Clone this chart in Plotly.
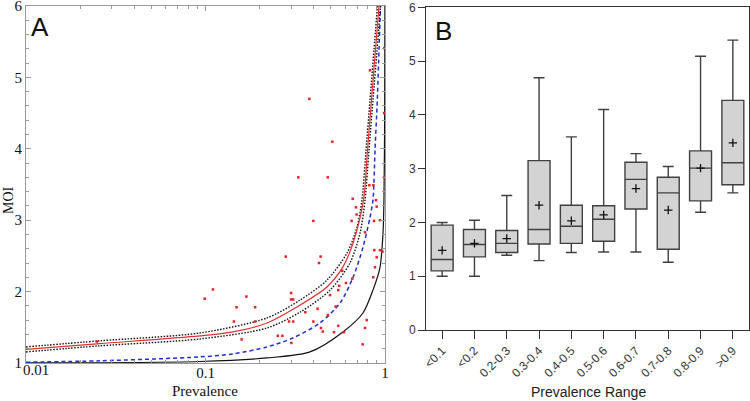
import plotly.graph_objects as go

# ---------------- Panel A data ----------------
red_p = [0.01, 0.0258, 0.093, 0.142, 0.220, 0.323, 0.475, 0.583, 0.664, 0.759, 0.799, 0.841, 0.885, 0.926]
red_moi = [1.19, 1.27, 1.378, 1.434, 1.56, 1.784, 2.064, 2.345, 2.68, 3.28, 3.98, 4.68, 5.38, 6.0]

upper_p = [0.01, 0.0258, 0.093, 0.220, 0.336, 0.475, 0.614, 0.698, 0.744, 0.784, 0.825, 0.868, 0.908]
upper_moi = [1.224, 1.31, 1.42, 1.63, 1.88, 2.16, 2.54, 2.90, 3.28, 3.98, 4.68, 5.38, 6.0]

lower_p = [0.01, 0.0258, 0.093, 0.220, 0.336, 0.494, 0.638, 0.726, 0.774, 0.814, 0.857, 0.903, 0.944]
lower_moi = [1.154, 1.24, 1.336, 1.49, 1.71, 2.02, 2.40, 2.82, 3.28, 3.98, 4.68, 5.38, 6.0]

blue_p = [0.01, 0.0258, 0.093, 0.142, 0.220, 0.307, 0.434, 0.562, 0.664, 0.754, 0.825, 0.857, 0.880, 0.906, 0.926, 0.944]
blue_moi = [1.01, 1.03, 1.084, 1.126, 1.224, 1.35, 1.56, 1.84, 2.20, 2.62, 3.04, 3.28, 3.98, 4.68, 5.38, 6.0]

black_p = [0.01, 0.093, 0.220, 0.382, 0.583, 0.754, 0.857, 0.938, 0.975, 0.987, 0.996, 0.999]
black_moi = [1.0, 1.02, 1.07, 1.154, 1.434, 1.70, 2.02, 2.34, 2.82, 3.28, 4.5, 6.0]

obs_p = [0.825, 0.379, 0.509, 0.329, 0.480, 0.818, 0.861, 0.891, 0.661, 0.689, 0.695, 0.899,
         0.652, 0.868, 0.938, 0.399, 0.774, 0.872, 0.938, 0.969, 0.280, 0.438, 0.429, 0.899,
         0.880, 0.578, 0.861, 0.657, 0.606, 0.556, 0.549, 0.494, 0.110, 0.099, 0.169, 0.149,
         0.189, 0.144, 0.189, 0.159, 0.300, 0.300, 0.308, 0.421, 0.360, 0.292, 0.308, 0.399,
         0.481, 0.440, 0.450, 0.253, 0.268, 0.301, 0.531, 0.549, 0.520, 0.591, 0.791, 0.774,
         0.751, 0.0248, 0.99, 0.99, 0.99]
obs_moi = [5.10, 4.70, 4.10, 3.60, 3.60, 3.49, 3.49, 3.28, 3.30, 3.18, 3.08, 3.19,
           2.99, 2.99, 3.00, 2.99, 2.83, 2.58, 2.58, 2.56, 2.49, 2.49, 2.40, 2.48,
           2.34, 2.29, 2.20, 2.18, 2.12, 2.08, 2.02, 1.95, 2.03, 1.90, 1.93, 1.78,
           1.78, 1.58, 1.58, 1.33, 1.98, 1.89, 1.89, 1.76, 1.71, 1.58, 1.58, 1.58,
           1.67, 1.49, 1.44, 1.38, 1.38, 1.28, 1.79, 1.52, 1.43, 1.43, 1.60, 1.49,
           1.26, 1.30, 5.41, 4.50, 3.60]

a_xtick_vals = [0.01, 0.1, 1]
a_xtick_text = ["", "0.1", "1"]          # "0.01" is drawn by a shifted overlay axis
a_first_tick_val = [0.01]
a_first_tick_text = ["0.01"]
a_xminor = [0.02, 0.03, 0.04, 0.05, 0.06, 0.07, 0.08, 0.09, 0.2, 0.3, 0.4, 0.5, 0.6, 0.7, 0.8, 0.9]
a_ytick_vals = [1, 2, 3, 4, 5, 6]

# ---------------- Panel B data ----------------
ranges = ["<0.1", "<0.2", "0.2-0.3", "0.3-0.4", "0.4-0.5", "0.5-0.6", "0.6-0.7", "0.7-0.8", "0.8-0.9", ">0.9"]
whisk_low = [1.00, 1.00, 1.39, 1.29, 1.44, 1.45, 1.45, 1.26, 2.19, 2.55]
q1 = [1.10, 1.36, 1.44, 1.60, 1.61, 1.65, 2.25, 1.50, 2.40, 2.70]
median = [1.31, 1.59, 1.61, 1.87, 1.93, 2.06, 2.80, 2.55, 3.01, 3.11]
q3 = [1.95, 1.87, 1.85, 3.15, 2.32, 2.31, 3.12, 2.84, 3.33, 4.27]
whisk_high = [2.00, 2.04, 2.50, 4.69, 3.59, 4.10, 3.28, 3.04, 5.09, 5.39]
means = [1.48, 1.61, 1.70, 2.32, 2.03, 2.14, 2.63, 2.23, 3.01, 3.48]

W, H = 750, 401
SERIF = "Liberation Serif, Times New Roman, serif"
SANS = "Liberation Sans, Arial, sans-serif"

fig = go.Figure()

# Panel A curves
spl = dict(shape="spline", smoothing=0.8)
fig.add_trace(go.Scatter(x=black_p, y=black_moi, mode="lines", line=dict(color="#111111", width=1.2, **spl),
                         xaxis="x", yaxis="y"))
fig.add_trace(go.Scatter(x=blue_p, y=blue_moi, mode="lines", line=dict(color="#2030d0", width=1.5, dash="4px,3px", **spl),
                         xaxis="x", yaxis="y"))
fig.add_trace(go.Scatter(x=upper_p, y=upper_moi, mode="lines", line=dict(color="#111111", width=1.4, dash="1.5px,1.5px", **spl),
                         xaxis="x", yaxis="y"))
fig.add_trace(go.Scatter(x=lower_p, y=lower_moi, mode="lines", line=dict(color="#111111", width=1.4, dash="1.5px,1.5px", **spl),
                         xaxis="x", yaxis="y"))
fig.add_trace(go.Scatter(x=red_p, y=red_moi, mode="lines", line=dict(color="#e03030", width=1.2, **spl),
                         xaxis="x", yaxis="y"))
fig.add_trace(go.Scatter(x=obs_p, y=obs_moi, mode="markers",
                         marker=dict(symbol="square", size=2.5, color="#e8202a", line=dict(width=0)),
                         xaxis="x", yaxis="y"))
# invisible carrier so the overlay axis (holding the shifted "0.01" label) is drawn
fig.add_trace(go.Scatter(x=a_first_tick_val, y=a_ytick_vals[:1], mode="markers",
                         marker=dict(size=1, opacity=0), hoverinfo="skip", xaxis="x3", yaxis="y"))

# Panel B boxes
fig.add_trace(go.Box(x=ranges, q1=q1, median=median, q3=q3, lowerfence=whisk_low, upperfence=whisk_high,
                     fillcolor="#d3d3d3", line=dict(color="#404040", width=1.4), width=0.68, whiskerwidth=0.5,
                     boxpoints=False, xaxis="x2", yaxis="y2"))
fig.add_trace(go.Scatter(x=ranges, y=means, mode="markers",
                         marker=dict(symbol="cross-thin", size=6, line=dict(color="#111111", width=1.3)),
                         xaxis="x2", yaxis="y2"))

a_line = "#9a9a9a"
b_line = "#333333"


def label(text, px, py, family, size, angle=0, color="#111111"):
    return dict(text=text, x=px / W, y=(H - py) / H, xref="paper", yref="paper", showarrow=False,
                xanchor="center", yanchor="middle", textangle=angle,
                font=dict(family=family, size=size, color=color))


a_xdom = [26 / W, 385 / W]

fig.update_layout(
    width=W, height=H, margin=dict(l=0, r=0, t=0, b=0),
    paper_bgcolor="white", plot_bgcolor="white", showlegend=False,
    xaxis=dict(domain=a_xdom, type="log", range=[-2.0001, 0.0001], anchor="y",
               tickvals=a_xtick_vals, ticktext=a_xtick_text, ticklabelstandoff=-4,
               ticks="inside", ticklen=5, tickcolor=a_line, showline=True, linecolor=a_line, linewidth=1,
               mirror="ticks", showgrid=False, zeroline=False, automargin=False, ticklabeloverflow="allow",
               minor=dict(tickvals=a_xminor, ticks="inside", ticklen=3, tickcolor=a_line, showgrid=False),
               tickfont=dict(family=SERIF, size=15, color="#111111")),
    xaxis3=dict(domain=a_xdom, type="log", range=[-2.0001, 0.0001], anchor="y", overlaying="x", side="bottom",
                tickvals=a_first_tick_val, ticktext=a_first_tick_text, ticklabelstandoff=-4, ticklabelshift=10,
                ticks="", showline=False, showgrid=False, zeroline=False, automargin=False,
                ticklabeloverflow="allow", tickfont=dict(family=SERIF, size=15, color="#111111")),
    yaxis=dict(domain=[(H - 363) / H, (H - 6) / H], range=[0.999, 6.001], anchor="x",
               tickvals=a_ytick_vals, ticks="inside", ticklen=5, tickcolor=a_line, ticklabeloverflow="allow",
               showline=True, linecolor=a_line, linewidth=1, mirror="ticks", showgrid=False, zeroline=False,
               automargin=False,
               minor=dict(dtick=0.2, ticks="inside", ticklen=3, tickcolor=a_line, showgrid=False),
               tickfont=dict(family=SERIF, size=15, color="#111111")),
    xaxis2=dict(domain=[426 / W, 749 / W], type="category", range=[-0.5, 9.5], anchor="y2",
                ticks="outside", ticklen=8, tickcolor=b_line, showline=True, linecolor=b_line, linewidth=1,
                mirror=True, showgrid=False, zeroline=False, tickangle=-45, automargin=False,
                tickfont=dict(family=SANS, size=12, color="#333333")),
    yaxis2=dict(domain=[(H - 330) / H, (H - 7.3) / H], range=[0, 6], anchor="x2", dtick=1,
                ticks="outside", ticklen=7, tickcolor=b_line, showline=True, linecolor=b_line, linewidth=1,
                mirror=True, showgrid=False, zeroline=False, automargin=False, ticklabeloverflow="allow",
                tickfont=dict(family=SANS, size=12, color="#333333")),
    annotations=[
        label("A", 40, 27, SANS, 26),
        label("B", 443.5, 31, SANS, 26),
        label("Prevalence", 205, 391, SERIF, 15),
        label("MOI", 8, 200, SERIF, 14, angle=-90),
        label("Prevalence Range", 588, 392, SANS, 14, color="#222222"),
    ],
)

fig.write_html("out.html", config={"displayModeBar": False},
               post_script="document.body.style.margin='0';document.body.style.overflow='hidden';")
